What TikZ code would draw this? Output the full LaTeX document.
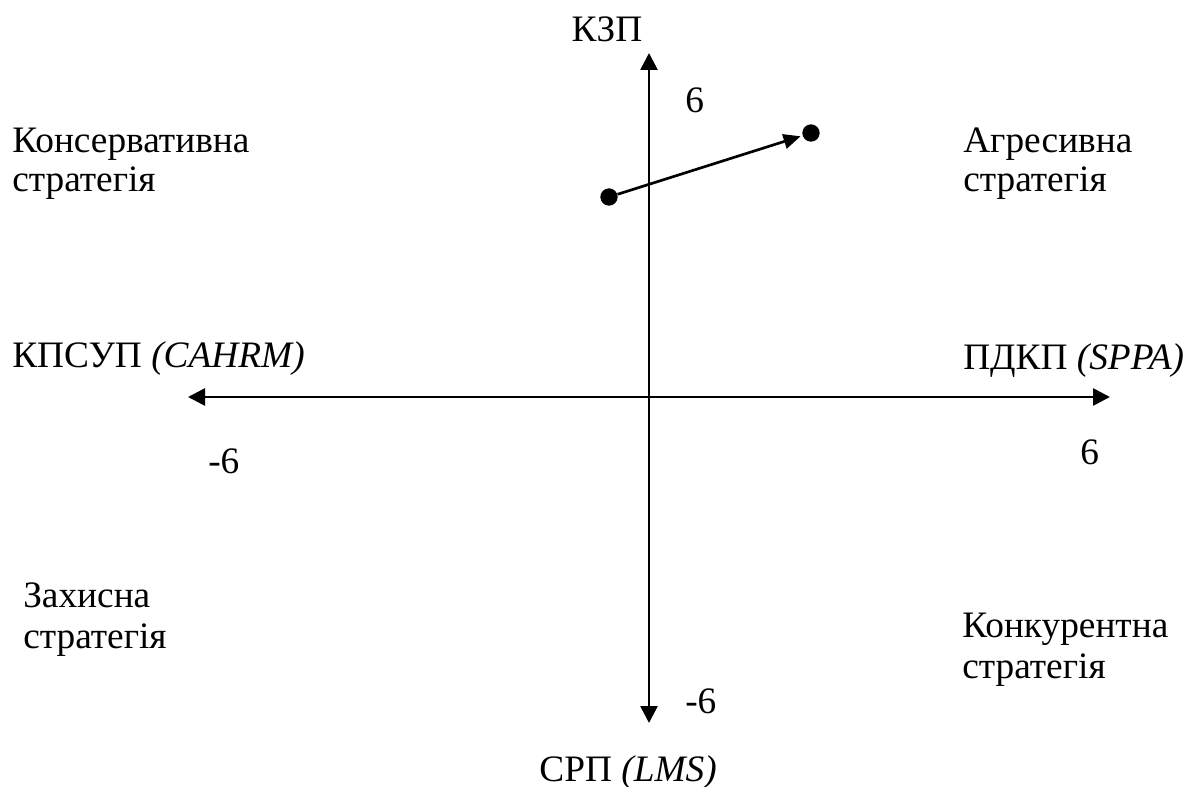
\documentclass[tikz,border=0pt]{standalone}
\usepackage{fontspec}
\setmainfont{Liberation Serif}
\usetikzlibrary{arrows.meta}
\begin{document}
\begin{tikzpicture}[x=0.75pt,y=-0.75pt,
  lbl/.style={anchor=base west,inner sep=0pt,font=\fontsize{28}{33}\selectfont},
  axis/.style={line width=2pt,{Triangle[length=12.75pt,width=12.75pt]}-{Triangle[length=12.75pt,width=12.75pt]}},
  vec/.style={line width=2pt,-{Triangle[length=12.75pt,width=11pt]},shorten >=1.5pt},
  dot/.style={circle,fill=black,inner sep=0pt,minimum size=13pt}]
\useasboundingbox (0,0) rectangle (1192,787);
\coordinate (L) at (188,397);
\coordinate (R) at (1110,397);
\coordinate (T) at (649,53);
\coordinate (B) at (649,723);
\draw[axis] (L) -- (R);
\draw[axis] (B) -- (T);
\node[dot] (p1) at (609,197) {};
\node[dot] (p2) at (811,133) {};
\draw[vec] (p1) -- (p2);
\node[lbl,anchor=base] (kzp) at (607,42) {КЗП};
\node[lbl] (t6a) at (685,113) {6};
\node[lbl] (kons1) at (12,153) {Консервативна};
\node[lbl] (kons2) at (12,192) {стратегія};
\node[lbl] (agr1) at (963,153) {Агресивна};
\node[lbl] (agr2) at (963,192) {стратегія};
\node[lbl] (kpsup) at (12,368) {КПСУП \textit{(CAHRM)}};
\node[lbl] (pdkp) at (963,370) {ПДКП \textit{(SPPA)}};
\node[lbl] (m6a) at (208,474) {-6};
\node[lbl] (t6b) at (1080,465) {6};
\node[lbl] (zax1) at (23,607) {Захисна};
\node[lbl] (zax2) at (23,648) {стратегія};
\node[lbl] (konk1) at (962,637) {Конкурентна};
\node[lbl] (konk2) at (962,678) {стратегія};
\node[lbl] (m6b) at (685,713) {-6};
\node[lbl,anchor=base east] (srp) at (717,781) {СРП \textit{(LMS)}};
\end{tikzpicture}
\end{document}
